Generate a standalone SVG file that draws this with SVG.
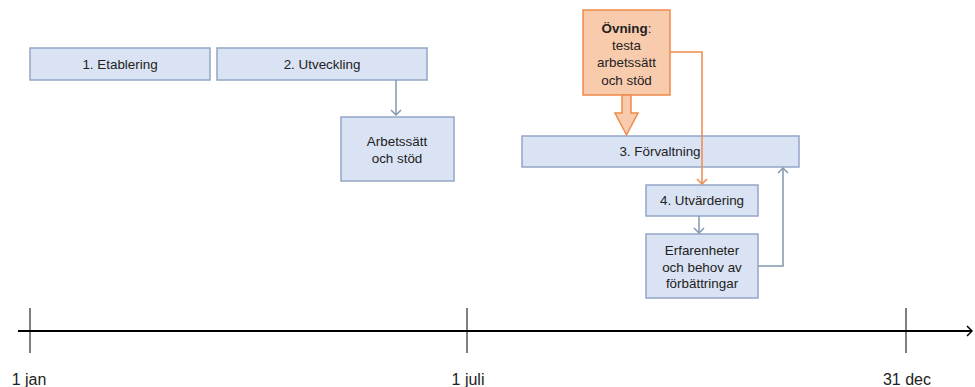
<svg xmlns="http://www.w3.org/2000/svg" width="975" height="387" viewBox="0 0 975 387">
  <style>
    .box { fill: #dae3f3; stroke: #93a7c6; stroke-width: 1.5; }
    .ex { fill: #f8cbad; stroke: #f08a4b; stroke-width: 1.5; }
    .t { font-family: "Liberation Sans", Arial, sans-serif; font-size: 13.4px; fill: #222; text-anchor: middle; }
    .lbl { font-family: "Liberation Sans", Arial, sans-serif; font-size: 16px; fill: #222; text-anchor: middle; }
    .conn { fill: none; stroke: #8497b0; stroke-width: 1.5; }
    .oconn { fill: none; stroke: #f08a4b; stroke-width: 1.5; }
    .axis { fill: none; stroke: #000; stroke-width: 2; }
    .tick { fill: none; stroke: #000; stroke-width: 1; }
  </style>
  <defs>
    <marker id="ah" markerWidth="12" markerHeight="12" refX="6" refY="6" orient="auto" markerUnits="userSpaceOnUse">
      <path d="M1,1 L6,6 L1,11" fill="none" stroke="#8497b0" stroke-width="1.5"/>
    </marker>
    <marker id="aho" markerWidth="12" markerHeight="12" refX="6" refY="6" orient="auto" markerUnits="userSpaceOnUse">
      <path d="M1,1 L6,6 L1,11" fill="none" stroke="#f08a4b" stroke-width="1.5"/>
    </marker>
    <marker id="aha" markerWidth="12" markerHeight="12" refX="6" refY="6" orient="auto" markerUnits="userSpaceOnUse">
      <path d="M1,1 L6,6 L1,11" fill="none" stroke="#000" stroke-width="1.5"/>
    </marker>
  </defs>

  <!-- timeline axis -->
  <g id="timeline">
    <line class="axis" x1="18" y1="331" x2="972" y2="331" marker-end="url(#aha)"/>
    <line class="tick" x1="30" y1="308" x2="30" y2="353"/>
    <line class="tick" x1="467" y1="308" x2="467" y2="353"/>
    <line class="tick" x1="906" y1="308" x2="906" y2="353"/>
    <text class="lbl" x="29" y="385">1 jan</text>
    <text class="lbl" x="468" y="385">1 juli</text>
    <text class="lbl" x="907" y="385">31 dec</text>
  </g>

  <g id="n1">
    <rect class="box" x="30" y="48" width="180" height="32"/>
    <text class="t" x="120" y="68.5">1. Etablering</text>
  </g>
  <g id="n2">
    <rect class="box" x="217" y="48" width="210" height="32"/>
    <text class="t" x="322" y="68.5">2. Utveckling</text>
  </g>
  <g id="n-arbetssatt">
    <rect class="box" x="341" y="117" width="113" height="64"/>
    <text class="t" x="397" y="145.5">Arbetssätt</text>
    <text class="t" x="397" y="162.5">och stöd</text>
  </g>
  <g id="n-ovning">
    <rect class="ex" x="583" y="10" width="87" height="85"/>
    <text class="t" x="626.5" y="32.5"><tspan font-weight="bold">Övning</tspan>:</text>
    <text class="t" x="626.5" y="49.5">testa</text>
    <text class="t" x="626.5" y="67">arbetssätt</text>
    <text class="t" x="626.5" y="84.5">och stöd</text>
  </g>
  <g id="n3">
    <rect class="box" x="522" y="136" width="277" height="31"/>
    <text class="t" x="660" y="156">3. Förvaltning</text>
  </g>
  <g id="n4">
    <rect class="box" x="646" y="185" width="112" height="31"/>
    <text class="t" x="702" y="205">4. Utvärdering</text>
  </g>
  <g id="n5">
    <rect class="box" x="646" y="234" width="112" height="64"/>
    <text class="t" x="702" y="255">Erfarenheter</text>
    <text class="t" x="702" y="271.5">och behov av</text>
    <text class="t" x="702" y="288">förbättringar</text>
  </g>

  <!-- connectors (drawn on top; the orange one crosses box 3) -->
  <g id="connectors">
    <line class="conn" x1="396" y1="80" x2="396" y2="115" marker-end="url(#ah)"/>
    <polyline class="oconn" points="670,52 702,52 702,184" marker-end="url(#aho)"/>
    <line class="conn" x1="699" y1="216" x2="699" y2="233" marker-end="url(#ah)"/>
    <polyline class="conn" points="758,266 783,266 783,168" marker-end="url(#ah)"/>
    <path class="ex" d="M622,95 L631,95 L631,113 L638,113 L626.5,135 L615,113 L622,113 Z"/>
  </g>
</svg>
